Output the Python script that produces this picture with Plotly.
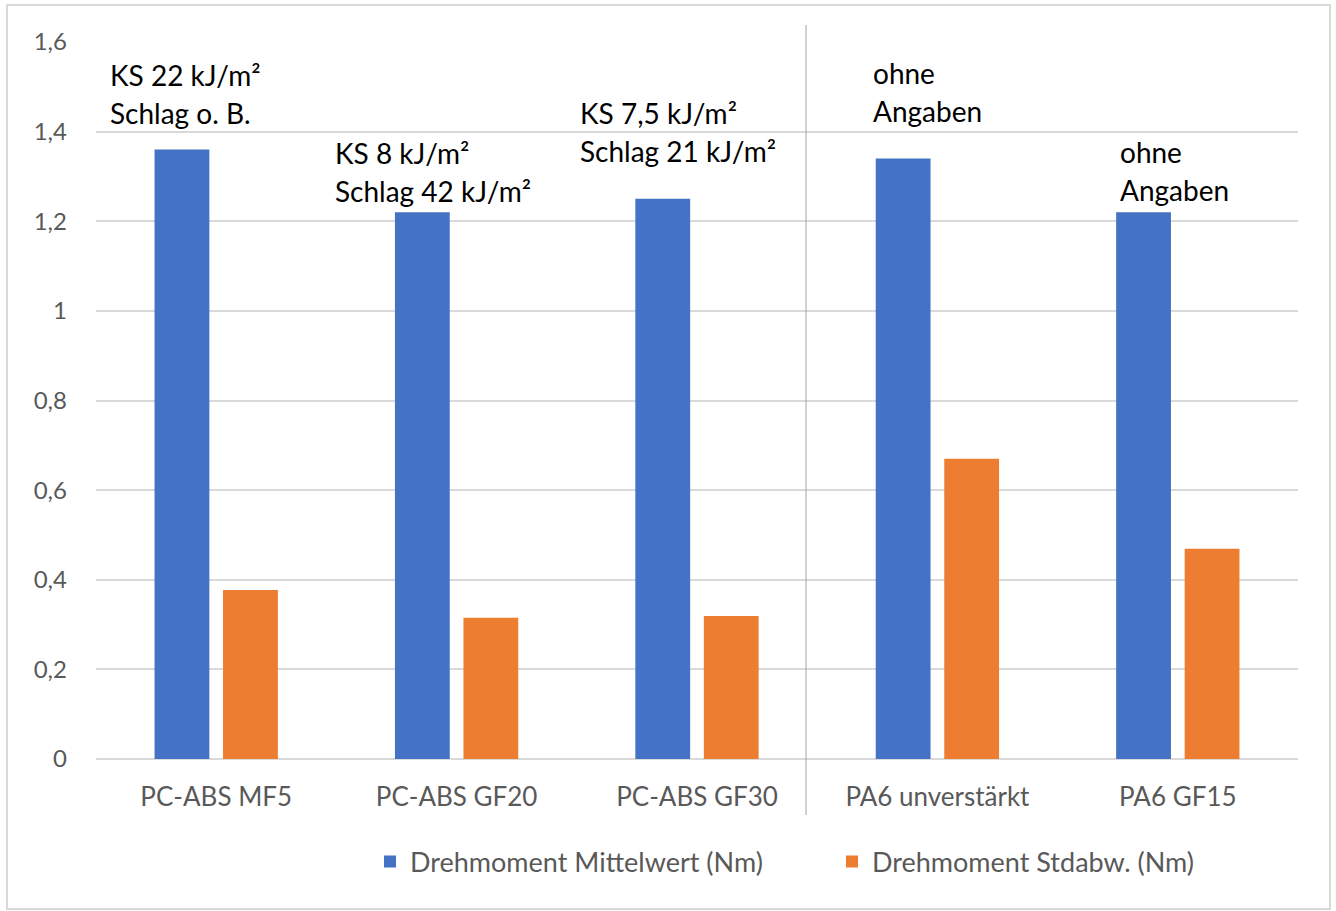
import plotly.graph_objects as go

# Werkstoffe und Messwerte
categories = ["PC-ABS MF5", "PC-ABS GF20", "PC-ABS GF30", "PA6 unverstärkt", "PA6 GF15"]
mean_torque = [1.36, 1.22, 1.25, 1.34, 1.22]
std_torque = [0.377, 0.315, 0.319, 0.67, 0.469]
series_names = ["Drehmoment Mittelwert (Nm)", "Drehmoment Stdabw. (Nm)"]

# Kennwerte je Werkstoff (Kerbschlag / Schlagzähigkeit)
notes = [
    ["KS 22 kJ/m²", "Schlag o. B."],
    ["KS 8 kJ/m²", "Schlag 42 kJ/m²"],
    ["KS 7,5 kJ/m²", "Schlag 21 kJ/m²"],
    ["ohne", "Angaben"],
    ["ohne", "Angaben"],
]

BLUE = "#4472C4"
ORANGE = "#ED7D31"
GRID = "#D9D9D9"
LABEL = "#595959"
FONT = "Lato, Carlito, Calibri, sans-serif"

W, H = 1336, 911
ML, MR, MT, MB = 96, 38, 42, 152
PW, PH = W - ML - MR, H - MT - MB


def px_x(px):
    return (px - ML) / PW


def px_y(py):
    return (H - MB - py) / PH


fig = go.Figure()
fig.add_trace(go.Bar(x=categories, y=mean_torque, name=series_names[0],
                     marker=dict(color=BLUE, line=dict(width=0))))
fig.add_trace(go.Bar(x=categories, y=std_torque, name=series_names[1],
                     marker=dict(color=ORANGE, line=dict(width=0))))

# Textblöcke über den Balkengruppen (links, Zeilenpositionen in Pixeln)
note_pos = [(108, 75), (333, 153), (578, 113), (871, 73), (1118, 152)]
line_step = 38
annotations = []
for (lines, (nx, ny)) in zip(notes, note_pos):
    for i, txt in enumerate(lines):
        annotations.append(dict(
            x=px_x(nx), y=px_y(ny + i * line_step), xref="paper", yref="paper",
            text=txt, showarrow=False, xanchor="left", yanchor="middle",
            font=dict(family=FONT, size=28, color="#000000"),
        ))

shapes = [
    # Trennlinie PC-ABS / PA6
    dict(type="line", xref="paper", yref="paper",
         x0=px_x(806), x1=px_x(806), y0=px_y(25), y1=px_y(815),
         line=dict(color="#A6A6A6", width=1)),
    # Rahmen des Diagrammbereichs
    dict(type="rect", xref="paper", yref="paper",
         x0=px_x(7), x1=px_x(1330), y0=px_y(5), y1=px_y(909),
         line=dict(color=GRID, width=2)),
]

fig.update_layout(
    width=W, height=H,
    margin=dict(l=ML, r=MR, t=MT, b=MB),
    paper_bgcolor="white", plot_bgcolor="white",
    separators=",.",
    barmode="group", bargap=0.43, bargroupgap=0.2,
    font=dict(family=FONT, size=24, color=LABEL),
    showlegend=True,
    legend=dict(orientation="h", x=px_x(370), y=px_y(862), xanchor="left", yanchor="middle",
                font=dict(family=FONT, size=27, color=LABEL),
                entrywidth=417, entrywidthmode="pixels", itemclick=False),
    annotations=annotations,
    shapes=shapes,
)
fig.update_xaxes(showgrid=False, showline=False, ticks="", zeroline=False,
                 tickfont=dict(family=FONT, size=26, color=LABEL), ticklabelstandoff=20)
fig.update_yaxes(range=[0, 1.6], dtick=0.2, showgrid=True, gridcolor=GRID, gridwidth=2,
                 zeroline=True, zerolinecolor=GRID, zerolinewidth=2, showline=False,
                 ticks="", tickfont=dict(family=FONT, size=24, color=LABEL),
                 ticklabelstandoff=28)

fig.write_html("out.html")
